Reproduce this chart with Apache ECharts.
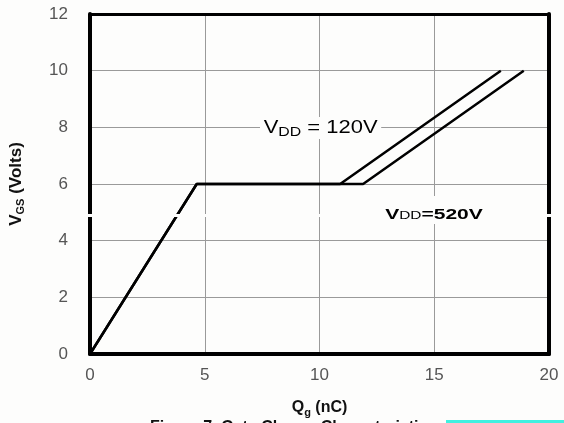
<!DOCTYPE html>
<html>
<head>
<meta charset="utf-8">
<script src="https://cdn.jsdelivr.net/npm/echarts@6/dist/echarts.min.js"></script>
<style>html,body{margin:0;padding:0;background:#fff;}#c{width:564px;height:423px;}</style>
</head>
<body>
<div id="c"></div>
<script>
const xTicks = [0, 5, 10, 15, 20];
const yTicks = [0, 2, 4, 6, 8, 10, 12];
const qg120 = [0, 4.65, 10.9, 17.9];
const vgs120 = [0, 6, 6, 10];
const qg520 = [0, 4.65, 11.9, 18.9];
const vgs520 = [0, 6, 6, 10];

const chart = echarts.init(document.getElementById('c'));
const F = '"Liberation Sans", Arial, sans-serif';
const BG = '#fdfdfc';
const frameAxis = (pos, w) => ({
  position: pos,
  axisLine: { show: true, onZero: false, lineStyle: { color: '#000', width: w } },
  axisTick: { show: false }, splitLine: { show: false }, axisLabel: { show: false }
});
chart.setOption({
  animation: false,
  backgroundColor: BG,
  grid: { left: 90, right: 15, top: 14, bottom: 66 },
  xAxis: [{
    type: 'value', min: 0, max: 20, interval: 5, position: 'bottom',
    axisLine: { show: true, onZero: false, lineStyle: { color: '#000', width: 4 } }, axisTick: { show: false },
    splitLine: { lineStyle: { color: '#9a9a9a', width: 1 } },
    axisLabel: { color: '#555', fontSize: 17, fontFamily: F, margin: 13, formatter: v => xTicks.includes(v) ? String(v) : '' },
    name: '{a|Q}{s|g}{a| (nC)}', nameLocation: 'middle', nameGap: 43,
    nameTextStyle: { rich: {
      a: { fontSize: 16, fontWeight: 'bold', fontFamily: F, color: '#111' },
      s: { fontSize: 11, fontWeight: 'bold', fontFamily: F, color: '#111', padding: [10, 0, 0, 0] }
    } }
  }, Object.assign({ type: 'value', min: 0, max: 20 }, frameAxis('top', 3))],
  yAxis: [{
    type: 'value', min: 0, max: 12, interval: 2, position: 'left',
    axisLine: { show: true, onZero: false, lineStyle: { color: '#000', width: 4 } }, axisTick: { show: false },
    splitLine: { lineStyle: { color: '#9a9a9a', width: 1 } },
    axisLabel: { color: '#555', fontSize: 17, fontFamily: F, margin: 22, formatter: v => yTicks.includes(v) ? String(v) : '' },
    name: '{a|V}{s|GS}{a| (Volts)}', nameLocation: 'middle', nameGap: 64, nameRotate: 90,
    nameTextStyle: { rich: {
      a: { fontSize: 17, fontWeight: 'bold', fontFamily: F, color: '#111' },
      s: { fontSize: 11, fontWeight: 'bold', fontFamily: F, color: '#111', padding: [8, 0, 0, 0] }
    } }
  }, Object.assign({ type: 'value', min: 0, max: 12 }, frameAxis('right', 4))],
  series: [
    { type: 'line', data: qg520.map((x, i) => [x, vgs520[i]]), symbol: 'none', lineStyle: { color: '#000', width: 2.5 }, z: 3 },
    { type: 'line', data: qg120.map((x, i) => [x, vgs120[i]]), symbol: 'none', lineStyle: { color: '#000', width: 2.5 }, z: 3 }
  ],
  graphic: [
    { type: 'rect', left: 80, top: 214, z: 20, shape: { width: 480, height: 3 }, style: { fill: BG } },
    { type: 'text', x: 260, y: 128, scaleX: 1.22, z: 30, style: {
      text: '{a|V}{s|DD}{a| = 120V}', backgroundColor: BG, padding: [0, 3], verticalAlign: 'middle',
      rich: {
        a: { fontSize: 18, fontFamily: F, color: '#222' },
        s: { fontSize: 13, fontFamily: F, color: '#222', padding: [9, 0, 0, 0] }
      } } },
    { type: 'text', x: 381, y: 210, scaleX: 1.4, z: 30, style: {
      text: '{a|V}{s|DD}{a|=520V}', backgroundColor: BG, padding: [11, 3, 2, 3], verticalAlign: 'middle',
      rich: {
        a: { fontSize: 15, fontWeight: 'bold', fontFamily: F, color: '#6a6a6a' },
        s: { fontSize: 11, fontFamily: F, color: '#777', padding: [3, 0, 0, 0] }
      } } },
    { type: 'text', left: 150, top: 420, z: 10, style: {
      text: 'Figure 7. Gate Charge Characteristics', fontSize: 16, fontWeight: 'bold', fontFamily: F, fill: '#111' } },
    { type: 'rect', left: 446, top: 420, z: 11, shape: { width: 118, height: 3 }, style: { fill: '#40f0e0' } }
  ]
});
</script>
</body>
</html>
